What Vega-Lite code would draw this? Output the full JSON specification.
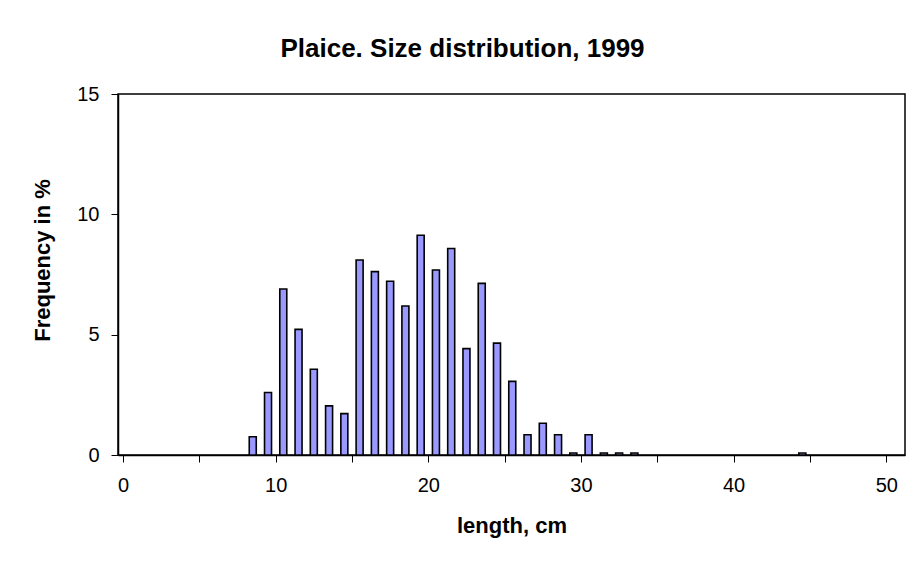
{
  "$schema": "https://vega.github.io/schema/vega-lite/v6.json",
  "width": 787,
  "height": 361,
  "autosize": {"type": "none"},
  "padding": {"left": 118, "top": 94, "right": 8, "bottom": 119},
  "background": "white",
  "title": {
    "text": "Plaice. Size distribution, 1999",
    "font": "Liberation Sans",
    "fontSize": 26,
    "fontWeight": "bold",
    "color": "#000",
    "anchor": "middle",
    "dx": -49,
    "offset": 22
  },
  "config": {
    "view": {"stroke": "#000", "strokeWidth": 1.5},
    "axis": {
      "grid": false,
      "domainColor": "#000",
      "domainWidth": 1.5,
      "tickColor": "#000",
      "tickWidth": 1,
      "tickSize": 7,
      "labelFont": "Liberation Sans",
      "labelFontSize": 20,
      "labelColor": "#000",
      "titleFont": "Liberation Sans",
      "titleFontSize": 22,
      "titleFontWeight": "bold",
      "titleColor": "#000"
    }
  },
  "data": {
    "values": [
      {"length": 8.5, "freq": 0.76},
      {"length": 9.5, "freq": 2.6},
      {"length": 10.5, "freq": 6.9},
      {"length": 11.5, "freq": 5.22},
      {"length": 12.5, "freq": 3.56},
      {"length": 13.5, "freq": 2.04},
      {"length": 14.5, "freq": 1.72},
      {"length": 15.5, "freq": 8.1},
      {"length": 16.5, "freq": 7.62},
      {"length": 17.5, "freq": 7.22},
      {"length": 18.5, "freq": 6.19},
      {"length": 19.5, "freq": 9.13},
      {"length": 20.5, "freq": 7.69},
      {"length": 21.5, "freq": 8.58},
      {"length": 22.5, "freq": 4.42},
      {"length": 23.5, "freq": 7.13},
      {"length": 24.5, "freq": 4.65},
      {"length": 25.5, "freq": 3.06},
      {"length": 26.5, "freq": 0.84},
      {"length": 27.5, "freq": 1.32},
      {"length": 28.5, "freq": 0.84},
      {"length": 29.5, "freq": 0.08},
      {"length": 30.5, "freq": 0.84},
      {"length": 31.5, "freq": 0.08},
      {"length": 32.5, "freq": 0.08},
      {"length": 33.5, "freq": 0.08},
      {"length": 44.5, "freq": 0.08}
    ]
  },
  "mark": {
    "type": "bar",
    "size": 7,
    "fill": "#9999FF",
    "stroke": "#000",
    "strokeWidth": 1.6
  },
  "encoding": {
    "x": {
      "field": "length",
      "type": "quantitative",
      "scale": {"domain": [0, 50.9], "nice": false, "zero": true},
      "axis": {
        "title": "length, cm",
        "values": [0, 5, 10, 15, 20, 25, 30, 35, 40, 45, 50],
        "labelExpr": "datum.value % 10 === 0 ? datum.label : ''",
        "labelPadding": 13,
        "labelDx": 6,
        "titlePadding": 20,
        "labelFlush": false,
        "labelOverlap": false
      }
    },
    "y": {
      "field": "freq",
      "type": "quantitative",
      "scale": {"domain": [0, 15], "nice": false},
      "axis": {
        "title": "Frequency in %",
        "values": [0, 5, 10, 15],
        "labelPadding": 12,
        "titlePadding": 22,
        "titleY": 166,
        "labelFlush": false
      }
    }
  }
}
